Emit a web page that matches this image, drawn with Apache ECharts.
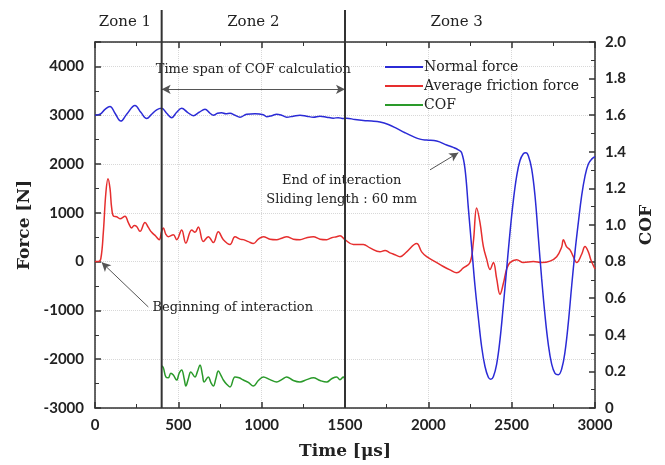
<!DOCTYPE html>
<html>
<head>
<meta charset="utf-8">
<script src="https://cdn.jsdelivr.net/npm/echarts@6/dist/echarts.min.js"></script>
<style>
  html, body { margin: 0; background: #fff; }
  #chart { width: 665px; height: 465px; }
</style>
</head>
<body>
<div id="chart"></div>
<script>
// Normal force [N]
var nfTime = [0, 30, 60, 90, 120, 155, 190, 240, 275, 310, 340, 370, 400, 430, 460, 490, 520, 555, 590, 625, 660, 690, 710, 735, 760, 785, 810, 840, 870, 910, 960, 1010, 1030, 1060, 1090, 1120, 1150, 1190, 1230, 1270, 1310, 1350, 1390, 1430, 1460, 1490, 1510, 1560, 1610, 1660, 1710, 1760, 1810, 1860, 1910, 1950, 1990, 2050, 2110, 2150, 2180, 2200, 2220, 2240, 2260, 2280, 2300, 2320, 2340, 2360, 2375, 2390, 2410, 2430, 2450, 2470, 2490, 2510, 2530, 2550, 2570, 2585, 2600, 2620, 2640, 2660, 2680, 2700, 2720, 2740, 2760, 2780, 2800, 2820, 2840, 2860, 2880, 2900, 2920, 2940, 2960, 2980, 3000]
var nfValue = [3000, 3020, 3120, 3180, 3040, 2880, 3020, 3200, 3060, 2930, 3020, 3110, 3140, 3040, 2950, 3060, 3140, 3060, 2990, 3060, 3120, 3040, 3000, 3040, 3050, 3030, 3040, 3000, 2960, 3020, 3030, 3010, 2970, 2990, 3020, 3000, 2960, 2980, 3000, 2980, 2960, 2980, 2960, 2940, 2950, 2930, 2940, 2910, 2890, 2880, 2860, 2810, 2730, 2640, 2560, 2510, 2490, 2470, 2390, 2340, 2290, 2230, 1900, 1100, 300, -500, -1150, -1750, -2150, -2370, -2410, -2360, -2100, -1600, -900, -150, 600, 1250, 1750, 2070, 2210, 2230, 2170, 1900, 1350, 500, -350, -1100, -1700, -2100, -2290, -2320, -2200, -1850, -1250, -500, 200, 800, 1350, 1750, 2000, 2100, 2150]

// Average friction force [N]
var afTime = [0, 20, 35, 50, 65, 78, 90, 100, 112, 130, 150, 180, 200, 220, 235, 250, 270, 300, 320, 340, 365, 385, 400, 410, 425, 440, 470, 490, 520, 545, 580, 600, 620, 650, 680, 710, 740, 770, 810, 840, 870, 890, 920, 950, 980, 1010, 1050, 1090, 1120, 1150, 1190, 1230, 1270, 1310, 1350, 1390, 1420, 1450, 1470, 1500, 1550, 1610, 1650, 1710, 1740, 1770, 1800, 1830, 1870, 1930, 1960, 1990, 2040, 2090, 2130, 2170, 2210, 2250, 2270, 2290, 2310, 2330, 2350, 2370, 2390, 2410, 2430, 2450, 2470, 2490, 2530, 2570, 2630, 2680, 2730, 2770, 2800, 2810, 2830, 2850, 2870, 2890, 2920, 2940, 2960, 2975, 3000]
var afValue = [0, 0, 60, 600, 1400, 1700, 1500, 1100, 930, 920, 880, 930, 800, 690, 740, 720, 620, 800, 700, 600, 520, 450, 620, 690, 560, 510, 550, 450, 650, 380, 650, 600, 710, 410, 510, 390, 610, 450, 350, 510, 460, 450, 410, 370, 460, 510, 460, 450, 480, 510, 460, 450, 490, 510, 460, 450, 490, 510, 530, 450, 350, 350, 280, 200, 230, 180, 140, 100, 200, 370, 200, 100, 0, -100, -170, -230, -130, -20, 400, 1100, 800, 310, 50, -160, -20, -350, -670, -450, -150, -20, 40, -20, 0, -20, 10, 100, 300, 450, 300, 240, 100, -20, 150, 310, 200, 40, -150]

// COF (right axis)
var cofTime = [400, 410, 425, 440, 455, 470, 490, 505, 520, 535, 545, 560, 575, 600, 615, 630, 645, 655, 680, 695, 710, 725, 740, 755, 770, 790, 810, 840, 865, 890, 920, 950, 980, 1010, 1050, 1090, 1120, 1150, 1190, 1230, 1270, 1310, 1350, 1390, 1420, 1450, 1470, 1490, 1500]
var cofValue = [0.23, 0.22, 0.17, 0.165, 0.19, 0.18, 0.153, 0.19, 0.208, 0.16, 0.12, 0.16, 0.197, 0.17, 0.2, 0.235, 0.18, 0.142, 0.17, 0.14, 0.12, 0.16, 0.202, 0.18, 0.153, 0.13, 0.115, 0.17, 0.165, 0.153, 0.14, 0.12, 0.15, 0.17, 0.155, 0.142, 0.155, 0.17, 0.15, 0.142, 0.155, 0.165, 0.15, 0.142, 0.16, 0.17, 0.155, 0.17, 0.142]

var zoneNames = ['Zone 1', 'Zone 2', 'Zone 3']
var zoneCenters = [180, 950, 2170]
var zoneBounds = [400, 1500]

function pairs(xs, ys) {
    return xs.map(function (x, i) { return [x, ys[i]] })
}

var serif = '"DejaVu Serif", "Liberation Serif", serif'
var sans = 'Lato, "Open Sans", sans-serif'
var axisCol = '#333'
var labelStyle = { color: '#222', fontFamily: sans, fontWeight: 'bold', fontSize: 15 }
var nameStyle = { fontFamily: serif, fontWeight: 'bold', fontSize: 17, color: '#222' }

function axisParts() {
    return {
        axisLine: { show: true, onZero: false, lineStyle: { color: axisCol, width: 1.5 } },
        axisTick: { show: true, inside: true, length: 6, lineStyle: { color: axisCol, width: 1.5 } },
        minorTick: { show: true, splitNumber: 2, length: 4, lineStyle: { color: axisCol } },
    }
}

var chart = echarts.init(document.getElementById('chart'))
var option = {
    animation: false,
    grid: { left: 95, right: 70, top: 42, bottom: 57 },
    legend: {
        orient: 'vertical',
        left: 380,
        top: 55,
        itemWidth: 38,
        itemHeight: 2,
        itemGap: 5,
        icon: 'rect',
        textStyle: { fontFamily: serif, fontSize: 14, color: '#222', padding: [0, 0, 0, -4] },
        data: ['Normal force', 'Average friction force', 'COF'],
    },
    xAxis: [
        Object.assign({
            type: 'value',
            min: 0,
            max: 3000,
            interval: 500,
            name: 'Time [μs]',
            nameLocation: 'middle',
            nameGap: 35,
            nameTextStyle: nameStyle,
            axisLabel: Object.assign({ margin: 10, formatter: function (v) { return String(v) } }, labelStyle),
            splitLine: { show: true, lineStyle: { color: '#d8d8d8', type: 'dotted' } },
        }, axisParts()),
        Object.assign({
            type: 'value',
            position: 'top',
            min: 0,
            max: 3000,
            interval: 500,
            axisLabel: { show: false },
            splitLine: { show: false },
        }, axisParts()),
    ],
    yAxis: [
        Object.assign({
            type: 'value',
            min: -3000,
            max: 4500,
            interval: 1000,
            name: 'Force [N]',
            nameLocation: 'middle',
            nameGap: 60,
            nameTextStyle: nameStyle,
            axisLabel: Object.assign({ margin: 11, showMaxLabel: false, formatter: function (v) { return String(v) } }, labelStyle),
            splitLine: { show: true, lineStyle: { color: '#d8d8d8', type: 'dotted' } },
        }, axisParts()),
        Object.assign({
            type: 'value',
            position: 'right',
            min: 0,
            max: 2,
            interval: 0.2,
            name: 'COF',
            nameLocation: 'middle',
            nameGap: 43,
            nameTextStyle: nameStyle,
            axisLabel: Object.assign({
                margin: 10,
                formatter: function (v) { return v === 0 ? '0' : v.toFixed(1) },
            }, labelStyle),
            splitLine: { show: false },
        }, axisParts()),
    ],
    series: [
        {
            name: 'Normal force',
            type: 'line',
            smooth: 0.4,
            symbol: 'none',
            color: '#2b2bd6',
            lineStyle: { width: 1.5 },
            data: pairs(nfTime, nfValue),
            z: 3,
            markLine: {
                silent: true,
                symbolSize: [7, 9],
                label: { show: false },
                lineStyle: { color: '#555', type: 'solid', width: 1 },
                data: [
                    [{ coord: [400, 3530], symbol: 'arrow' }, { coord: [1500, 3530], symbol: 'arrow' }],
                    [{ coord: [2010, 1880], symbol: 'none' }, { coord: [2180, 2230], symbol: 'arrow' }],
                    [{ coord: [320, -930], symbol: 'none' }, { coord: [40, -15], symbol: 'arrow' }],
                ],
            },
        },
        {
            name: 'Average friction force',
            type: 'line',
            smooth: 0.4,
            symbol: 'none',
            color: '#e62e2e',
            lineStyle: { width: 1.5 },
            data: pairs(afTime, afValue),
            z: 2,
        },
        {
            name: 'COF',
            type: 'line',
            yAxisIndex: 1,
            smooth: 0.4,
            symbol: 'none',
            color: '#2a9a2a',
            lineStyle: { width: 1.5 },
            data: pairs(cofTime, cofValue),
        },
    ],
}
chart.setOption(option)

// zone dividers, zone labels and annotations placed through the axis scales
var gTop = chart.convertToPixel({ yAxisIndex: 0 }, 4500)
var gBottom = chart.convertToPixel({ yAxisIndex: 0 }, -3000)
var graphics = []
zoneBounds.forEach(function (t) {
    var x = chart.convertToPixel({ xAxisIndex: 0 }, t)
    graphics.push({
        type: 'line',
        shape: { x1: x, y1: gTop - 32, x2: x, y2: gBottom },
        style: { stroke: '#333', lineWidth: 2 },
        z: 10,
    })
})
zoneNames.forEach(function (name, i) {
    graphics.push({
        type: 'text',
        x: chart.convertToPixel({ xAxisIndex: 0 }, zoneCenters[i]),
        y: gTop - 20,
        style: { text: name, fontFamily: serif, fontSize: 15, fill: '#222', align: 'center', verticalAlign: 'middle' },
    })
})
function note(t, f, text, align) {
    var p = chart.convertToPixel({ xAxisIndex: 0, yAxisIndex: 0 }, [t, f])
    graphics.push({
        type: 'text',
        x: p[0],
        y: p[1],
        style: { text: text, fontFamily: serif, fontSize: 13, fill: '#222', align: align || 'center', verticalAlign: 'middle' },
    })
}
note(950, 3930, 'Time span of COF calculation')
note(1480, 1650, 'End of interaction')
note(1480, 1280, 'Sliding length : 60 mm')
note(345, -950, 'Beginning of interaction', 'left')
chart.setOption({ graphic: graphics })
</script>
</body>
</html>
